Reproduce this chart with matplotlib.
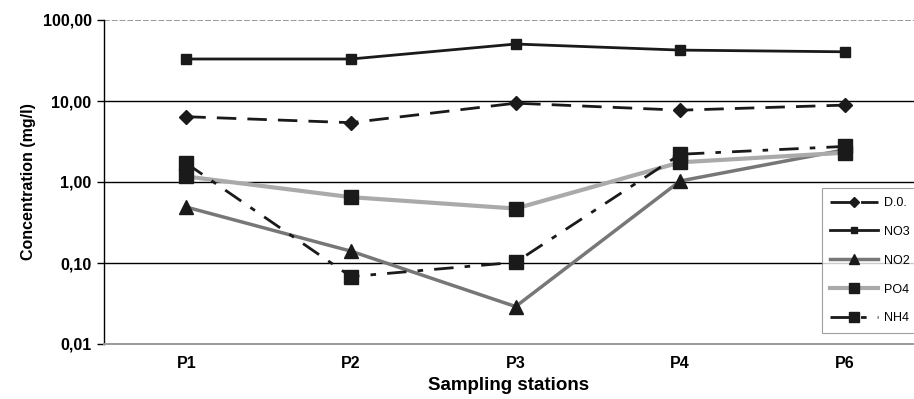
import matplotlib
matplotlib.use('Agg')
import matplotlib.pyplot as plt
from matplotlib.ticker import FixedLocator, NullLocator

plt.rcParams.update({'font.family': 'Liberation Sans', 'font.size': 10})

stations = ['P1', 'P2', 'P3', 'P4', 'P6']
do_vals = [6.4, 5.4, 9.4, 7.7, 8.9]
no3_vals = [33.0, 33.0, 50.5, 42.5, 40.5]
no2_vals = [0.49, 0.14, 0.029, 1.03, 2.5]
po4_vals = [1.17, 0.65, 0.47, 1.75, 2.3]
nh4_vals = [1.7, 0.068, 0.102, 2.2, 2.75]

fig = plt.figure(figsize=(9.14, 3.99), dpi=100)
ax = fig.add_axes([104/914, 1-344/399, 1-104/914, 324/399])
x = range(len(stations))

ax.plot(x, do_vals, color='#1a1a1a', lw=2, dashes=(7, 4), marker='D', ms=7, mfc='#1a1a1a', mec='#1a1a1a', label='D.0.', zorder=4)
ax.plot(x, no3_vals, color='#1a1a1a', lw=2, marker='s', ms=6.5, mfc='#1a1a1a', mec='#1a1a1a', label='NO3', zorder=4)
ax.plot(x, no2_vals, color='#777777', lw=2.5, marker='^', ms=9.5, mfc='#1a1a1a', mec='#1a1a1a', label='NO2', zorder=3)
ax.plot(x, po4_vals, color='#aaaaaa', lw=3, marker='s', ms=10.5, mfc='#1a1a1a', mec='#1a1a1a', label='PO4', zorder=3)
ax.plot(x, nh4_vals, color='#1a1a1a', lw=2, dashes=(7, 4, 2, 4), marker='s', ms=10.5, mfc='#1a1a1a', mec='#1a1a1a', label='NH4', zorder=4)

ax.set_yscale('log')
ax.set_ylim(0.01, 100)
ax.set_xlim(-0.5, 4.42)
ax.yaxis.set_major_locator(FixedLocator([0.01, 0.1, 1, 10, 100]))
ax.yaxis.set_minor_locator(NullLocator())
ax.set_yticklabels(['0,01', '0,10', '1,00', '10,00', '100,00'], fontweight='bold', fontsize=11.5)
ax.set_xticks(list(x))
ax.set_xticklabels(stations, fontweight='bold', fontsize=11.5)
ax.tick_params(axis='x', length=0, pad=9)
ax.tick_params(axis='y', length=5, width=1, pad=4)

for v in [0.1, 1, 10]:
    ax.axhline(v, color='black', lw=1, zorder=1)
ax.axhline(100, color='#999999', lw=1.4, ls=(0, (3, 1)), zorder=1)
ax.spines['bottom'].set_color('#999999')
ax.spines['bottom'].set_linestyle((0, (3, 1)))
ax.spines['bottom'].set_linewidth(1.4)
ax.spines['top'].set_visible(False)
ax.spines['right'].set_visible(False)
ax.spines['left'].set_linewidth(1)

ax.set_xlabel('Sampling stations', fontweight='bold', fontsize=13.5, labelpad=4)
ax.set_ylabel('Concentration (mg/l)', fontweight='bold', fontsize=11.5, labelpad=5)

leg = ax.legend(loc='upper left', bbox_to_anchor=(0.886, 0.481), fontsize=9, frameon=True,
                fancybox=False, edgecolor='#888888', handlelength=3.8, handletextpad=0.45,
                labelspacing=1.35, borderpad=0.7, borderaxespad=0, markerscale=0.75)
leg.get_frame().set_linewidth(0.8)

plt.savefig('out.png', dpi=100)
